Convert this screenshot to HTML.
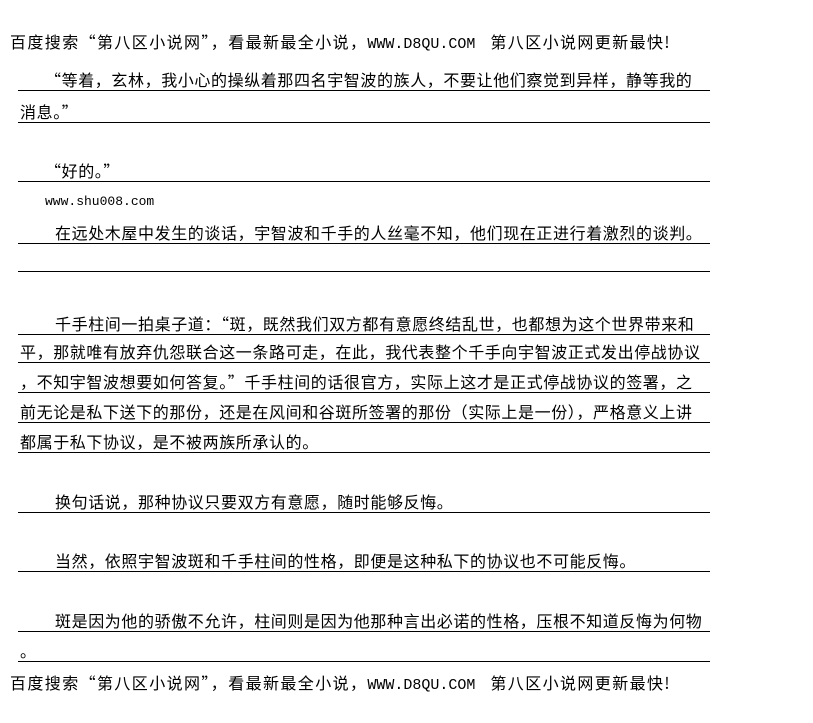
<!DOCTYPE html>
<html><head><meta charset="utf-8"><style>
body{margin:0;width:813px;height:723px;background:#fff;position:relative;overflow:hidden;font-family:"Noto Sans CJK SC","WenQuanYi Zen Hei",sans-serif;color:#000}
.t{position:absolute;font-size:16px;letter-spacing:0.6px;white-space:nowrap;line-height:18px}
.l{position:absolute;left:18px;width:692px;height:1px;background:#000}
.h{position:absolute;left:10px;font-size:16px;white-space:nowrap;letter-spacing:1.4px;line-height:18px}
.m{font-family:"Liberation Mono",monospace;font-size:15px;letter-spacing:0}
</style></head><body>
<div class="h" style="top:32px">百度搜索“第八区小说网”，看最新最全小说，<span class="m">WWW.D8QU.COM</span>&nbsp;&nbsp; 第八区小说网更新最快!</div>
<div class="t" style="left:45px;top:70px">“等着，玄林，我小心的操纵着那四名宇智波的族人，不要让他们察觉到异样，静等我的</div><div class="l" style="top:90px"></div>
<div class="t" style="left:20px;top:102px">消息。”</div><div class="l" style="top:122px"></div>
<div class="t" style="left:45px;top:161px">“好的。”</div><div class="l" style="top:181px"></div>
<div class="t m" style="left:45px;top:193px;font-size:13px">www.shu008.com</div>
<div class="t" style="left:55px;top:223px">在远处木屋中发生的谈话，宇智波和千手的人丝毫不知，他们现在正进行着激烈的谈判。</div><div class="l" style="top:243px"></div>
<div class="l" style="top:271px"></div>
<div class="t" style="left:55px;top:314px">千手柱间一拍桌子道：“斑，既然我们双方都有意愿终结乱世，也都想为这个世界带来和</div><div class="l" style="top:334px"></div>
<div class="t" style="left:20px;top:342px">平，那就唯有放弃仇怨联合这一条路可走，在此，我代表整个千手向宇智波正式发出停战协议</div><div class="l" style="top:362px"></div>
<div class="t" style="left:20px;top:372px">，不知宇智波想要如何答复。”千手柱间的话很官方，实际上这才是正式停战协议的签署，之</div><div class="l" style="top:392px"></div>
<div class="t" style="left:20px;top:402px">前无论是私下送下的那份，还是在风间和谷斑所签署的那份（实际上是一份），严格意义上讲</div><div class="l" style="top:422px"></div>
<div class="t" style="left:20px;top:432px">都属于私下协议，是不被两族所承认的。</div><div class="l" style="top:452px"></div>
<div class="t" style="left:55px;top:492px">换句话说，那种协议只要双方有意愿，随时能够反悔。</div><div class="l" style="top:512px"></div>
<div class="t" style="left:55px;top:551px">当然，依照宇智波斑和千手柱间的性格，即便是这种私下的协议也不可能反悔。</div><div class="l" style="top:571px"></div>
<div class="t" style="left:55px;top:611px">斑是因为他的骄傲不允许，柱间则是因为他那种言出必诺的性格，压根不知道反悔为何物</div><div class="l" style="top:631px"></div>
<div class="t" style="left:20px;top:641px">。</div><div class="l" style="top:661px"></div>
<div class="h" style="top:673px">百度搜索“第八区小说网”，看最新最全小说，<span class="m">WWW.D8QU.COM</span>&nbsp;&nbsp; 第八区小说网更新最快!</div>
</body></html>
